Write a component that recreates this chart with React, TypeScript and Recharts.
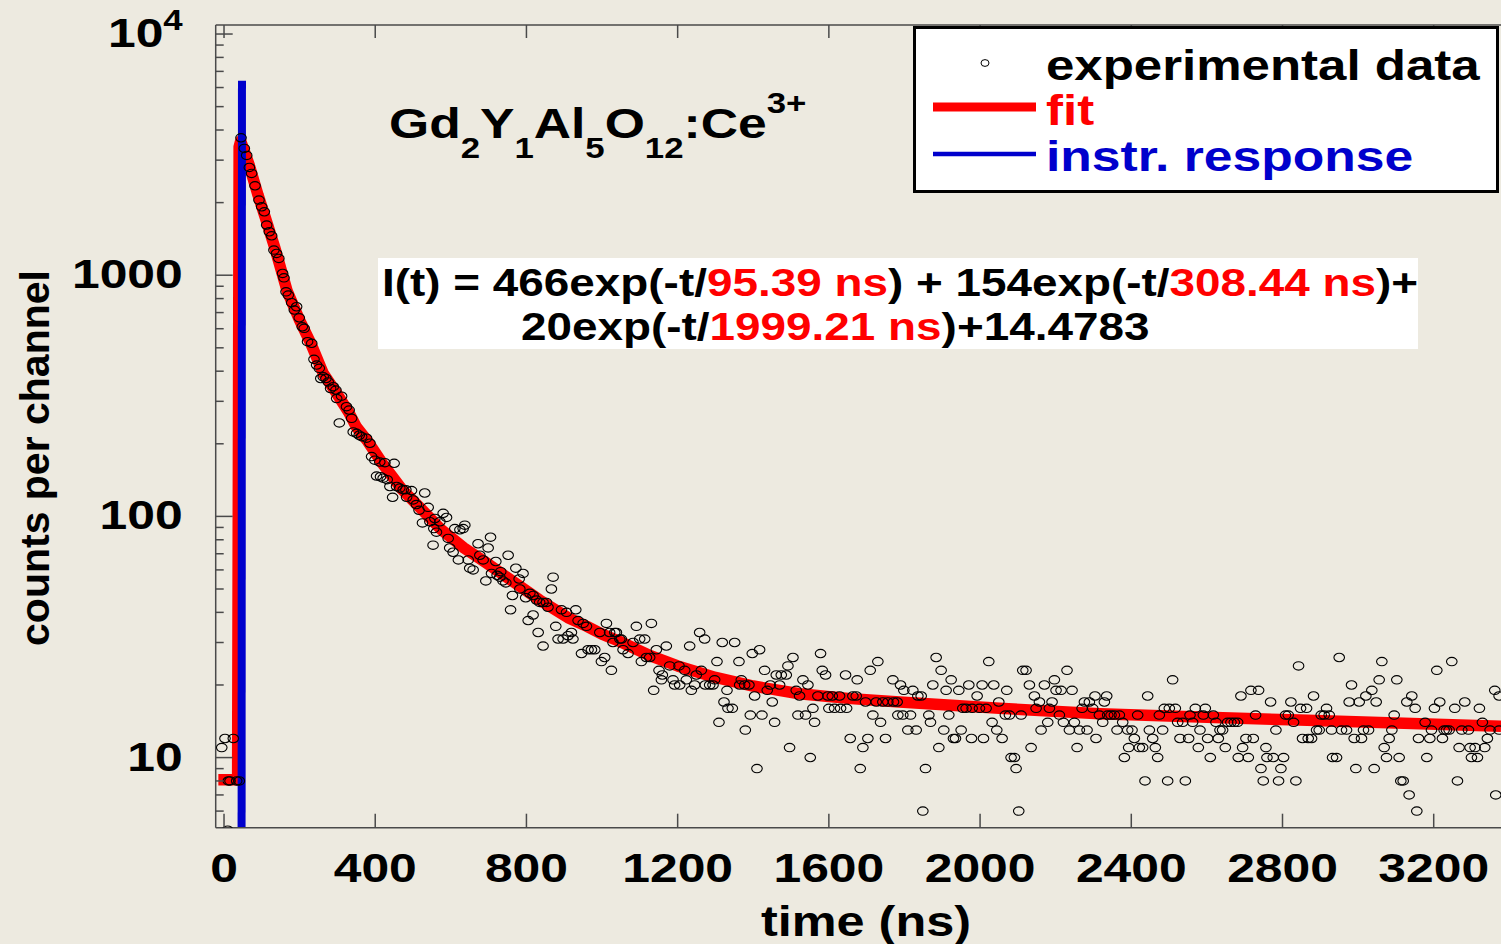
import React from 'react';
import { ComposedChart, XAxis, YAxis, Scatter, Line } from 'recharts';

const WIDTH = 1501;
const HEIGHT = 944;
const BG = '#EDEAE0';
const AXIS = '#4a4a4a';
const RED = '#FF0000';
const BLUE = '#0000CC';
const FONT = '"Liberation Sans", Arial, Helvetica, sans-serif';
const STRETCH = 1.2;

const TIME_DOMAIN: [number, number] = [-22, 3378];
const COUNT_DOMAIN: [number, number] = [5.12, 10900];

const timeTicks = [0, 400, 800, 1200, 1600, 2000, 2400, 2800, 3200];
const majorCountTicks = [10, 100, 1000, 10000];
const minorCountTicks = [
  6, 7, 8, 9, 20, 30, 40, 50, 60, 70, 80, 90, 200, 300, 400, 500, 600, 700, 800, 900,
  2000, 3000, 4000, 5000, 6000, 7000, 8000, 9000,
];

// fitted decay (time in ns, counts)
const fitCurve: [number, number][] = [
  [-15, 8.1], [36, 8.1], [40, 3400], [44, 3600], [67, 2850], [90, 2150], [110, 1720],
  [135, 1290], [167, 860], [200, 650], [230, 520], [263, 390], [300, 320], [330, 270],
  [350, 235], [380, 205], [420, 165], [470, 130], [525, 106], [575, 88], [635, 74],
  [695, 64], [755, 55], [835, 45], [910, 38], [960, 35], [1000, 32.5], [1047, 30.3],
  [1126, 26.5], [1200, 24], [1300, 21.5], [1400, 19.8], [1522, 18.4], [1650, 17.6],
  [1787, 17], [2051, 16], [2316, 15.2], [2600, 14.7], [2844, 14.3], [3100, 13.9], [3378, 13.5],
];

// instrument response pulse
const instrResponse: [number, number][] = [[46.5, 4.9], [47.5, 6400]];

// measured counts per channel
const risePoints: [number, number][] = [
  [-6, 11], [2.6, 12], [9.7, 5], [11.4, 8], [15.9, 8], [24.6, 12], [33.5, 8], [40.5, 8],
];

const decayPoints: [number, number][] = [
  [45, 3713], [53.7, 3356], [60, 3139], [67, 2798], [73, 2643], [82, 2348], [92.5, 2048],
  [99.6, 1921], [106.6, 1832], [112.8, 1614], [119.8, 1514], [126, 1457], [132, 1271],
  [139, 1231], [145, 1174], [155, 1017], [158.6, 975], [164, 853], [170, 827], [179, 769],
  [186, 717], [192, 740], [199, 666], [207, 611], [212, 602], [221, 530], [232, 522],
  [238, 448], [245, 424], [252, 411], [256, 373], [262.5, 379], [269.6, 373], [275.7, 361],
  [282, 339], [289, 345], [296, 334], [298, 308], [305, 244], [311, 315], [324, 285],
  [331, 276], [337.5, 255], [341.8, 224], [350.7, 221], [357.7, 217], [364, 214], [377, 211],
  [386, 201], [390.4, 177], [399, 171], [403.6, 147], [412, 168], [414, 146], [421, 144],
  [425.6, 167], [431.7, 142], [438.8, 133], [446, 120], [450, 166], [456.5, 133], [465, 131],
  [474, 129], [481, 129], [483, 120], [496, 128], [500.5, 117], [509, 112], [516, 106],
  [531, 125], [540, 109], [557.8, 98], [579.7, 103], [588.6, 99],
];

const midPoints: [number, number][] = [
  [525, 94], [544.6, 95], [555, 89], [562, 86], [571, 95], [553, 76], [593, 81], [597, 74],
  [606, 71], [610.6, 89], [624, 88], [632.6, 89], [637, 92], [620, 66], [646, 66], [650, 61],
  [659, 60], [672, 77], [676.7, 69], [685.5, 66], [698.7, 74], [705, 82], [719, 65],
  [707.6, 58], [692.6, 54], [722.5, 57], [732, 59], [738, 54], [729.6, 56], [745.5, 53],
  [751.6, 69], [772, 61], [780.7, 55], [791, 58], [763, 47], [782.5, 50], [798, 46], [809, 48],
  [817.6, 47], [826.6, 45], [835, 44], [844, 44], [853, 44], [857, 42], [870.5, 56], [866, 50],
  [758, 41], [804.6, 37], [817.6, 39], [831, 33], [844, 29], [877.6, 35], [883.7, 31],
  [892.7, 41], [906, 40], [897, 31], [910, 32], [919, 33], [923, 31], [930.5, 41], [936.6, 37],
  [950, 36], [958.8, 35], [963, 28], [945.6, 27], [972, 28], [980.7, 28], [994, 33],
  [1011.6, 36], [1020, 33], [1033.6, 33], [1029, 30], [1038, 33], [1007, 26], [1047, 31],
];

const tailPointsEarly: [number, number][] = [
  [998.3, 25], [1024.7, 23], [1051, 31], [1055.6, 28], [1068.8, 27], [1082, 30], [1090.8, 35],
  [1099.6, 31], [1104, 25], [1112.8, 31], [1117.3, 26], [1126, 26], [1130.5, 36], [1136.6, 19],
  [1143.7, 28], [1150.7, 23], [1157, 21], [1159.5, 22], [1170, 29], [1179, 24], [1187.7, 21],
  [1192, 20], [1203.6, 24], [1205.4, 20], [1218.6, 23], [1223, 21], [1231.8, 29], [1236.2, 19],
  [1245, 20], [1249.4, 22], [1258.2, 33], [1262.6, 23], [1271.4, 31], [1273, 20], [1284.7, 20],
  [1293.5, 20], [1297.9, 21], [1304, 25], [1309.3, 14], [1318, 30], [1322.6, 17], [1330.5, 19],
  [1333.1, 16], [1344.6, 16], [1350.8, 30], [1362.2, 25], [1364, 20], [1368.4, 21], [1377.2, 20],
  [1379, 13], [1388.6, 20], [1392.2, 15], [1397.4, 27], [1403.6, 18], [1409.8, 9], [1416.8, 28],
  [1423, 15], [1430, 23], [1437, 19], [1445, 20], [1450.3, 17], [1456.5, 14], [1460.9, 22],
  [1469.7, 20], [1474.1, 22], [1487.3, 22], [1491.7, 24], [1496.1, 11], [1505, 26], [1513.7, 19],
  [1518.2, 15], [1522.5, 18], [1531.4, 21], [1538.4, 15], [1544.6, 20], [1550.8, 10],
  [1557.8, 16], [1562.2, 14], [1571, 18], [1578, 27], [1582.5, 23], [1591.3, 22], [1597.5, 18],
  [1600, 16], [1609, 18], [1615, 16], [1628.3, 18], [1631, 16], [1644.2, 22], [1647, 16],
  [1656.5, 12], [1663.5, 18], [1672.4, 18], [1675, 21], [1683, 9], [1690, 11], [1697, 17],
  [1703.2, 12], [1709.4, 23], [1716.4, 15], [1725.2, 17], [1729.6, 25], [1736.7, 14],
  [1742.8, 17], [1749.9, 12], [1756, 17], [1769.3, 21], [1771, 17], [1780.7, 17], [1782.5, 15],
  [1789.5, 20], [1795.7, 15], [1798.3, 19], [1808.9, 13], [1816, 15], [1822.1, 19], [1831, 13],
  [1835.4, 18], [1844.2, 18], [1848.6, 6], [1855.6, 9], [1864.4, 15], [1868.8, 14], [1875, 20],
  [1883.8, 26], [1890.9, 11], [1897, 23], [1904, 13], [1910.2, 19], [1917.3, 15], [1923.5, 21],
  [1929.6, 12], [1934.9, 12], [1943.7, 19], [1949.9, 13], [1954.3, 16], [1963, 16], [1970.2, 20],
  [1977.2, 12], [1979, 16], [1992.2, 18], [1998.4, 16], [2005.4, 20], [2009, 12], [2016, 16],
  [2023, 25], [2031.8, 14], [2036.2, 20], [2044.2, 13], [2049.5, 17], [2058.3, 12], [2067, 15],
  [2070.6, 19], [2077.7, 15], [2082, 10], [2090.9, 10], [2095.3, 9], [2102.3, 6], [2108.5, 15],
  [2112.9, 23], [2121.7, 23], [2130.5, 20], [2135, 11], [2143.7, 18], [2148.2, 16], [2157, 17],
  [2161.4, 13], [2170.2, 20], [2179, 14], [2183.4, 16], [2190.4, 17], [2196.6, 21], [2201, 19],
  [2209.8, 15], [2214.2, 19], [2220.4, 14], [2230, 23], [2236.3, 13], [2243.3, 19], [2249.5, 14],
  [2256.6, 11], [2262.7, 13], [2269.8, 16], [2276, 17], [2283, 13], [2289.1, 17], [2297.9, 16],
  [2304, 18], [2306.7, 12],
];

const tailPointsLate: [number, number][] = [
  [2950, 26], [3062.8, 25], [3247.8, 25], [2842.5, 24], [3208.2, 23], [2509.4, 21], [3055.7, 21],
  [3102.4, 21], [2982.6, 20], [2716.5, 19], [2736.8, 19], [3036.3, 19], [3361.5, 19], [2335, 18],
  [2443.4, 18], [2690, 18], [2882.1, 18], [3020.5, 18], [3142, 18], [3373, 18], [2328.8, 17],
  [2768.5, 17], [2822.2, 17], [2976.4, 17], [3002.9, 17], [3047.8, 17], [3128.9, 17], [3216, 17],
  [3282.2, 17], [2487.4, 16], [2500.6, 16], [2516.5, 16], [2569.4, 16], [2595.8, 16],
  [2847.8, 16], [2863.7, 16], [2916.5, 16], [3150.9, 16], [3202, 16], [3255.7, 16], [3320.9, 16],
  [2315.6, 15], [2337.6, 15], [2346.4, 15], [2355.3, 15], [2368.5, 15], [2416.9, 15],
  [2474.2, 15], [2555.3, 15], [2590.5, 15], [2617, 15], [2728.8, 15], [2808.1, 15], [2815.2, 15],
  [2902.4, 15], [2910.3, 15], [2923.6, 15], [3095.4, 15], [2324.4, 14], [2377.3, 14],
  [2522.7, 14], [2535.9, 14], [2562.3, 14], [2624, 14], [2654.8, 14], [2663.6, 14], [2672.5, 14],
  [2681.3, 14], [2829.3, 14], [3177.3, 14], [3328.8, 14], [2362.3, 13], [2390.5, 13], [2402, 13],
  [2447.8, 13], [2483, 13], [2581.7, 13], [2634.6, 13], [2641.6, 13], [2782.6, 13], [2890.1, 13],
  [2897.1, 13], [2929.7, 13], [2956.2, 13], [2969.4, 13], [3014.3, 13], [3027.6, 13],
  [3089.3, 13], [3194.1, 13], [3227.6, 13], [3233.7, 13], [3240.8, 13], [3274.3, 13],
  [3291.9, 13], [3349.1, 13], [3373, 13], [2408.1, 12], [2456.6, 12], [2528.8, 12], [2551.7, 12],
  [2602, 12], [2630.2, 12], [2703.3, 12], [2722.7, 12], [2853, 12], [2868, 12], [2876.9, 12],
  [2989.6, 12], [3009, 12], [3082.2, 12], [3159.7, 12], [3189.7, 12], [3223.1, 12], [3342, 12],
  [2393, 11], [2421.3, 11], [2430.1, 11], [2463.6, 11], [2577.3, 11], [2648.7, 11], [2694.5, 11],
  [2756.2, 11], [3069, 11], [3267.2, 11], [3296.3, 11], [3309.5, 11], [3335, 11], [2381.7, 10],
  [2469.8, 10], [2609, 10], [2683, 10], [2709.5, 10], [2758.8, 10], [2775.5, 10], [2802.9, 10],
  [2932.4, 10], [2943, 10], [3075.1, 10], [3108.6, 10], [3181.7, 10], [3299.8, 10], [3315.7, 10],
  [2743, 9], [2795.8, 9], [2994, 9], [3042.5, 9], [2436.3, 8], [2496.2, 8], [2543, 8],
  [2749.1, 8], [2789.6, 8], [2835.4, 8], [3113, 8], [3119.2, 8], [3262.8, 8], [3135, 7],
  [3364.1, 7], [3155.3, 6],
];

const toRows = (pts: [number, number][]) => pts.map(([t, v]) => ({ t, v }));

const fitRows = toRows(fitCurve);
const irfRows = toRows(instrResponse);
const expRows = toRows([
  ...risePoints, ...decayPoints, ...midPoints, ...tailPointsEarly, ...tailPointsLate,
]);

const labelStyle = { fontFamily: FONT, fontWeight: 700 as const };

const BottomTick = (props: any) => {
  const { x, y, payload } = props;
  return (
    <g>
      <line x1={x} x2={x} y1={y} y2={y - 14} stroke={AXIS} strokeWidth={1.5} />
      <text
        transform={`translate(${x},${y + 54}) scale(${STRETCH},1)`}
        textAnchor="middle"
        fontSize={41.5}
        fill="#000"
        {...labelStyle}
      >
        {payload.value}
      </text>
    </g>
  );
};

const TopTick = (props: any) => {
  const { x, y } = props;
  return <line x1={x} x2={x} y1={y} y2={y + 13} stroke={AXIS} strokeWidth={1.5} />;
};

const LeftTick = (props: any) => {
  const { x, y, payload } = props;
  const v = payload.value as number;
  const major = majorCountTicks.includes(v);
  return (
    <g>
      <line x1={x} x2={x + (major ? 17 : 8)} y1={y} y2={y} stroke={AXIS} strokeWidth={1.5} />
      {major && (
        <text
          transform={`translate(${x - 33},${y + 13}) scale(${STRETCH},1)`}
          textAnchor="end"
          fontSize={41.5}
          fill="#000"
          {...labelStyle}
        >
          {v === 10000 ? (
            <>
              10
              <tspan dy={-17} fontSize={29}>4</tspan>
            </>
          ) : (
            v
          )}
        </text>
      )}
    </g>
  );
};

const Ring = (props: any) => {
  const { cx, cy } = props;
  if (cx == null || cy == null) return null;
  return <ellipse cx={cx} cy={cy} rx={5.3} ry={4.2} fill="none" stroke="#000" strokeWidth={1.1} />;
};

export default function App() {
  return (
    <div
      style={{
        position: 'fixed',
        left: 0,
        top: 0,
        width: WIDTH,
        height: HEIGHT,
        background: BG,
        overflow: 'hidden',
      }}
    >
      <ComposedChart width={WIDTH} height={HEIGHT} margin={{ top: 24, right: 0, bottom: 0, left: 0 }}>
        <XAxis
          xAxisId="bottom"
          dataKey="t"
          type="number"
          domain={TIME_DOMAIN}
          ticks={timeTicks}
          interval={0}
          allowDataOverflow
          height={116.3}
          tickSize={0}
          tickMargin={0}
          tickLine={false}
          axisLine={{ stroke: AXIS, strokeWidth: 1.5 }}
          tick={(p: any) => <BottomTick {...p} />}
        />
        <XAxis
          xAxisId="top"
          orientation="top"
          dataKey="t"
          type="number"
          domain={TIME_DOMAIN}
          ticks={timeTicks}
          interval={0}
          allowDataOverflow
          height={1}
          tickSize={0}
          tickMargin={0}
          tickLine={false}
          axisLine={{ stroke: AXIS, strokeWidth: 1.5 }}
          tick={(p: any) => <TopTick {...p} />}
        />
        <YAxis
          yAxisId="counts"
          dataKey="v"
          type="number"
          scale="log"
          domain={COUNT_DOMAIN}
          ticks={[...minorCountTicks, ...majorCountTicks].sort((a, b) => a - b)}
          interval={0}
          allowDataOverflow
          width={215.7}
          tickSize={0}
          tickMargin={0}
          tickLine={false}
          axisLine={{ stroke: AXIS, strokeWidth: 1.5 }}
          tick={(p: any) => <LeftTick {...p} />}
        />
        <Line
          xAxisId="bottom"
          yAxisId="counts"
          data={fitRows}
          dataKey="v"
          type="linear"
          stroke={RED}
          strokeWidth={11.5}
          strokeLinejoin="round"
          dot={false}
          activeDot={false}
          isAnimationActive={false}
        />
        <Line
          xAxisId="top"
          yAxisId="counts"
          data={irfRows}
          dataKey="v"
          type="linear"
          stroke={BLUE}
          strokeWidth={8}
          dot={false}
          activeDot={false}
          isAnimationActive={false}
        />
        <Scatter
          xAxisId="bottom"
          yAxisId="counts"
          data={expRows}
          dataKey="v"
          shape={(p: any) => <Ring {...p} />}
          isAnimationActive={false}
        />
      </ComposedChart>

      <svg
        width={WIDTH}
        height={HEIGHT}
        style={{ position: 'absolute', left: 0, top: 0, pointerEvents: 'none' }}
      >
        {/* axis titles */}
        <text
          transform={`translate(866,936) scale(${STRETCH},1)`}
          textAnchor="middle"
          fontSize={42}
          fill="#000"
          {...labelStyle}
        >
          time (ns)
        </text>
        <text
          transform="translate(49,458) rotate(-90)"
          textAnchor="middle"
          fontSize={41}
          fill="#000"
          {...labelStyle}
        >
          counts per channel
        </text>

        {/* sample name */}
        <text transform={`translate(389,138) scale(${STRETCH},1)`} fontSize={43} fill="#000" {...labelStyle}>
          Gd
          <tspan dy={20} fontSize={29}>2</tspan>
          <tspan dy={-20}>Y</tspan>
          <tspan dy={20} fontSize={29}>1</tspan>
          <tspan dy={-20}>Al</tspan>
          <tspan dy={20} fontSize={29}>5</tspan>
          <tspan dy={-20}>O</tspan>
          <tspan dy={20} fontSize={29}>12</tspan>
          <tspan dy={-20}>:Ce</tspan>
          <tspan dy={-25} fontSize={29}>3+</tspan>
        </text>

        {/* decay law */}
        <rect x={378} y={258} width={1040} height={91} fill="#FFFFFF" />
        <text transform="translate(382,296) scale(1.207,1)" fontSize={38} fill="#000" {...labelStyle}>
          I(t) = 466exp(-t/<tspan fill={RED}>95.39 ns</tspan>) + 154exp(-t/
          <tspan fill={RED}>308.44 ns</tspan>)+
        </text>
        <text transform="translate(521,340) scale(1.207,1)" fontSize={38} fill="#000" {...labelStyle}>
          20exp(-t/<tspan fill={RED}>1999.21 ns</tspan>)+14.4783
        </text>

        {/* legend */}
        <rect x={914.5} y={27.5} width={583} height={164} fill="#FFFFFF" stroke="#000" strokeWidth={3} />
        <ellipse cx={985} cy={63} rx={4} ry={3.4} fill="none" stroke="#000" strokeWidth={1} />
        <text transform={`translate(1046,80) scale(${STRETCH},1)`} fontSize={42.5} fill="#000" {...labelStyle}>
          experimental data
        </text>
        <line x1={933} x2={1036} y1={107} y2={107} stroke={RED} strokeWidth={9} />
        <text transform={`translate(1046,125) scale(${STRETCH},1)`} fontSize={42.5} fill={RED} {...labelStyle}>
          fit
        </text>
        <line x1={933} x2={1036} y1={154} y2={154} stroke={BLUE} strokeWidth={4.5} />
        <text transform="translate(1046,171) scale(1.215,1)" fontSize={42.5} fill={BLUE} {...labelStyle}>
          instr. response
        </text>
      </svg>
    </div>
  );
}
